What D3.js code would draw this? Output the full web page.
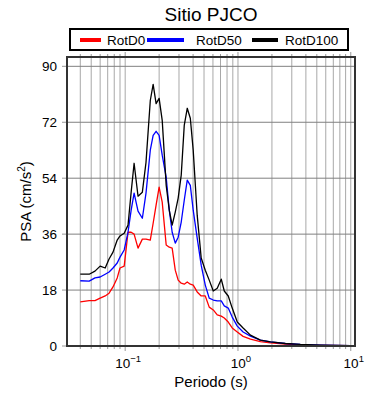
<!DOCTYPE html>
<html>
<head>
<meta charset="utf-8">
<script src="https://cdn.jsdelivr.net/npm/d3@7"></script>
<style>
  body { margin: 0; background: #fff; }
  svg { font-family: "Liberation Sans", Arial, sans-serif; }
</style>
</head>
<body>
<svg id="chart" width="390" height="400"></svg>
<script>
// periods (s)
const periods = [0.04, 0.048, 0.054, 0.06, 0.0665, 0.072, 0.078, 0.085, 0.09, 0.098,
  0.106, 0.113, 0.12, 0.13, 0.142, 0.153, 0.167, 0.177, 0.188, 0.2,
  0.213, 0.231, 0.246, 0.261, 0.278, 0.295, 0.314, 0.334, 0.355, 0.378,
  0.401, 0.435, 0.472, 0.513, 0.556, 0.604, 0.655, 0.711, 0.756, 0.82,
  0.889, 0.986, 1.11, 1.29, 1.58, 1.94, 2.63, 3.57, 5.38, 10];

// PSA values (cm/s^2)
const rotD0 = [14.2, 14.6, 14.6, 15.4, 16.1, 17.0, 19.0, 21.9, 25.1, 25.7,
  36.6, 36.6, 36.0, 31.5, 34.4, 34.4, 34.1, 39.5, 45.3, 51.1,
  46.3, 32.5, 31.8, 31.5, 24.4, 21.2, 20.2, 19.9, 20.6, 19.9,
  19.6, 17.4, 16.1, 16.1, 12.5, 11.6, 10.0, 9.6, 9.0, 7.7,
  5.8, 4.5, 3.1, 2.2, 1.4, 1.0, 0.6, 0.3, 0.2, 0.15];

const rotD50 = [21.0, 20.9, 21.9, 22.2, 23.1, 23.8, 25.1, 26.7, 28.6, 30.9,
  36.6, 43.7, 49.2, 43.4, 41.1, 49.2, 63.0, 67.8, 69.1, 67.8,
  61.4, 54.3, 43.7, 36.6, 33.1, 35.0, 39.9, 46.9, 53.4, 51.7,
  43.7, 34.7, 26.0, 19.6, 15.4, 14.8, 14.5, 14.5, 12.9, 12.2,
  9.3, 6.4, 4.5, 3.2, 1.9, 1.3, 0.8, 0.5, 0.3, 0.15];

const rotD100 = [23.1, 23.1, 24.1, 25.7, 25.1, 28.0, 30.2, 34.1, 35.4, 36.3,
  38.9, 49.5, 58.8, 48.2, 49.5, 59.1, 79.0, 84.2, 78.0, 79.7,
  72.6, 51.7, 43.7, 38.9, 43.1, 47.6, 55.0, 71.0, 76.5, 73.3,
  63.0, 42.1, 28.3, 24.4, 21.2, 17.7, 18.6, 21.5, 17.7, 16.1,
  12.2, 7.7, 5.8, 3.5, 1.9, 1.3, 0.8, 0.5, 0.3, 0.15];

const seriesNames = ["RotD0", "RotD50", "RotD100"];
const seriesColors = ["#ff0000", "#0000ff", "#000000"];
const yTicks = [0, 18, 36, 54, 72, 90];
const xMajor = [0.1, 1, 10];
const xExponents = ["\u22121", "0", "1"];

const mLeft = 67, mRight = 355, mTop = 57, mBottom = 346;

const svg = d3.select("#chart");

const x = d3.scaleLog().domain([0.0305, 10.9]).range([mLeft, mRight]);
const y = d3.scaleLinear().domain([0, 93]).range([mBottom, mTop]);

// minor log positions for grid
const gridX = [];
[0.01, 0.1, 1].forEach(dec => {
  for (let k = 1; k <= 9; k++) {
    const v = dec * k;
    if (v >= 0.0305 && v <= 10.9) gridX.push(v);
  }
});
gridX.push(10);

// vertical grid
svg.append("g").selectAll("line")
  .data(gridX)
  .enter().append("line")
  .attr("x1", d => x(d)).attr("x2", d => x(d))
  .attr("y1", mTop).attr("y2", mBottom)
  .attr("stroke", "#a8a8a8").attr("stroke-width", 1);

// horizontal grid
svg.append("g").selectAll("line")
  .data(yTicks.slice(1))
  .enter().append("line")
  .attr("x1", mLeft).attr("x2", mRight)
  .attr("y1", d => y(d)).attr("y2", d => y(d))
  .attr("stroke", "#808080").attr("stroke-width", 1);

// curves
svg.append("clipPath").attr("id", "clip")
  .append("rect").attr("x", mLeft).attr("y", mTop)
  .attr("width", mRight - mLeft).attr("height", mBottom - mTop);

const line = d3.line()
  .x((d, i) => x(periods[i]))
  .y(d => y(d));

[rotD0, rotD50, rotD100].forEach((vals, i) => {
  svg.append("path")
    .datum(vals)
    .attr("clip-path", "url(#clip)")
    .attr("fill", "none")
    .attr("stroke", seriesColors[i])
    .attr("stroke-width", 1.3)
    .attr("stroke-linejoin", "round")
    .attr("d", line);
});

// tick marks outside the frame
svg.append("g").selectAll("line")
  .data(gridX)
  .enter().append("line")
  .attr("x1", d => x(d)).attr("x2", d => x(d))
  .attr("y1", mBottom).attr("y2", d => xMajor.includes(d) ? mBottom + 5 : mBottom + 3)
  .attr("stroke", "#999");

svg.append("g").selectAll("line")
  .data(gridX)
  .enter().append("line")
  .attr("x1", d => x(d)).attr("x2", d => x(d))
  .attr("y1", mTop).attr("y2", d => xMajor.includes(d) ? mTop - 5 : mTop - 3)
  .attr("stroke", "#999");

svg.append("g").selectAll("line")
  .data(yTicks)
  .enter().append("line")
  .attr("x1", mLeft - 5).attr("x2", mLeft)
  .attr("y1", d => y(d)).attr("y2", d => y(d))
  .attr("stroke", "#999");

// frame
svg.append("rect")
  .attr("x", mLeft).attr("y", mTop)
  .attr("width", mRight - mLeft).attr("height", mBottom - mTop)
  .attr("fill", "none").attr("stroke", "#333").attr("stroke-width", 2);

// y tick labels
svg.append("g").selectAll("text")
  .data(yTicks)
  .enter().append("text")
  .attr("x", mLeft - 10).attr("y", d => y(d) + 5)
  .attr("text-anchor", "end")
  .attr("font-size", 13.5)
  .text(d => d);

// x tick labels, 10 with raised exponent
const xl = svg.append("g").selectAll("text")
  .data(xMajor)
  .enter().append("text")
  .attr("x", d => x(d) + 3).attr("y", mBottom + 22)
  .attr("text-anchor", "middle")
  .attr("font-size", 13.5);
xl.append("tspan").text("10");
xl.append("tspan")
  .attr("dy", -6).attr("font-size", 9.5)
  .text((d, i) => xExponents[i]);

// axis titles
svg.append("text")
  .attr("x", (mLeft + mRight) / 2).attr("y", 387)
  .attr("text-anchor", "middle")
  .attr("font-size", 15)
  .text("Periodo (s)");

const yt = svg.append("text")
  .attr("transform", "translate(31," + ((mTop + mBottom) / 2) + ") rotate(-90)")
  .attr("text-anchor", "middle")
  .attr("font-size", 15);
yt.append("tspan").text("PSA (cm/s");
yt.append("tspan").attr("dy", -6).attr("font-size", 10).text("2");
yt.append("tspan").attr("dy", 6).text(")");

// title
svg.append("text")
  .attr("x", 211).attr("y", 21)
  .attr("text-anchor", "middle")
  .attr("font-size", 19)
  .text("Sitio PJCO");

// legend
const legend = svg.append("g");
legend.append("rect")
  .attr("x", 70).attr("y", 29)
  .attr("width", 278).attr("height", 21)
  .attr("fill", "#fff").attr("stroke", "#000").attr("stroke-width", 2);

const legX = [80, 147, 252];
const legLen = [21, 37, 26];
const textX = [107, 196, 285];
seriesNames.forEach((name, i) => {
  legend.append("line")
    .attr("x1", legX[i]).attr("x2", legX[i] + legLen[i])
    .attr("y1", 40).attr("y2", 40)
    .attr("stroke", seriesColors[i]).attr("stroke-width", 4);
  legend.append("text")
    .attr("x", textX[i]).attr("y", 45)
    .attr("font-size", 13.5)
    .text(name);
});
</script>
</body>
</html>
